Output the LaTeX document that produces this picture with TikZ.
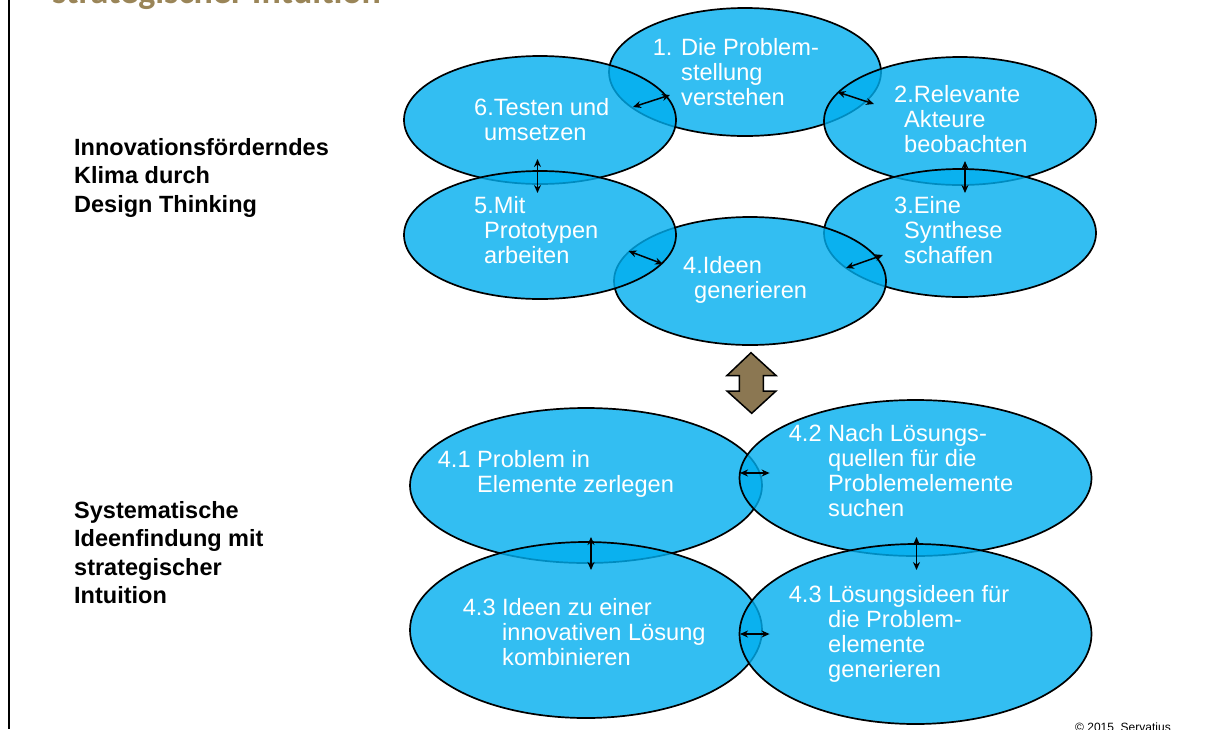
\documentclass[tikz,border=0pt]{standalone}
\usepackage{fontspec}
\setmainfont{Liberation Sans}
\newfontfamily\titlefont{Carlito}
\usetikzlibrary{shapes.geometric,arrows.meta}
\definecolor{ellblue}{HTML}{00AEEF}
\definecolor{arrbrown}{HTML}{8B7752}
\definecolor{titlebrown}{HTML}{9A8558}
\newcommand\mylines[1]{\vtop{\baselineskip=25pt\lineskiplimit=-20pt\lineskip=0pt #1}}
\newcommand\mylabel[1]{\vtop{\baselineskip=28.5pt\lineskiplimit=-20pt\lineskip=0pt #1}}
\begin{document}
\begin{tikzpicture}[x=1pt,y=-1pt,
  stage/.style={ellipse, draw=black, line width=1.7pt, fill=ellblue, fill opacity=0.8, draw opacity=1, inner sep=0pt},
  topstage/.style={stage, minimum width=272pt, minimum height=128pt},
  botstage/.style={stage, minimum width=352pt},
  etext/.style={anchor=base west, inner sep=0pt, text=white, font=\fontsize{23.6}{25}\selectfont},
  sidelabel/.style={anchor=base west, inner sep=0pt, text=black, font=\fontsize{23.5}{28.5}\selectfont\bfseries},
  link/.style={line width=1.5pt, {Stealth[length=8pt,width=7pt]}-{Stealth[length=8pt,width=7pt]}}
]
\useasboundingbox (0,0) rectangle (1215,729);
\fill[white] (0,0) rectangle (1215,729);

% title (cut off) and copyright
\begin{scope}
\clip (0,0) rectangle (1215,729);
\node[anchor=base west, inner sep=0pt, text=titlebrown, font=\titlefont\bfseries\fontsize{36}{36}\selectfont] (title) at (52,3) {strategischer Intuition};
\node[anchor=base west, inner sep=0pt, text=black, font=\fontsize{12}{12}\selectfont] (copy) at (1075,731) {\textcopyright\ 2015\ \ Servatius};
\end{scope}

% left border
\draw[line width=2pt] (8.5,0) -- (8.5,729);

% top cycle
\node[topstage] (e1) at (745,72) {};
\node[topstage] (e2) at (960,121) {};
\node[topstage] (e3) at (960,233) {};
\node[topstage] (e4) at (750,281) {};
\node[topstage] (e6) at (540,120) {};
\node[topstage] (e5) at (540,235) {};

\node[etext] (t1) at (681,55) {\mylines{\hbox{\llap{1. }Die Problem-}\hbox{stellung}\hbox{verstehen}}};
\node[etext] (t2) at (904,102) {\mylines{\hbox{\kern-10pt 2.Relevante}\hbox{Akteure}\hbox{beobachten}}};
\node[etext] (t3) at (904,213) {\mylines{\hbox{\kern-10pt 3.Eine}\hbox{Synthese}\hbox{schaffen}}};
\node[etext] (t4) at (694,273) {\mylines{\hbox{\kern-11pt 4.Ideen}\hbox{generieren}}};
\node[etext] (t5) at (484,213) {\mylines{\hbox{\kern-10pt 5.Mit}\hbox{Prototypen}\hbox{arbeiten}}};
\node[etext] (t6) at (484,115) {\mylines{\hbox{\kern-10pt 6.Testen und}\hbox{umsetzen}}};

% arrow endpoints top
\coordinate (a61) at (633,107); \coordinate (a16) at (670,95);
\coordinate (a12) at (837.5,92); \coordinate (a21) at (874,104);
\coordinate (a23) at (965,161); \coordinate (a32) at (965,193);
\coordinate (a34) at (883,255); \coordinate (a43) at (846,268);
\coordinate (a45) at (663,264); \coordinate (a54) at (628.6,251);
\coordinate (a56) at (537.5,193); \coordinate (a65) at (537.5,159);
\draw[link] (a61) -- (a16);
\draw[link] (a12) -- (a21);
\draw[link] (a23) -- (a32);
\draw[link] (a34) -- (a43);
\draw[link] (a45) -- (a54);
\draw[link] (a56) -- (a65);

% big double arrow
\draw[fill=arrbrown, line width=1.5pt, line join=miter]
  (751,352.7) -- (776,375.5) -- (763.3,375.5) -- (763.3,391) -- (776,391) -- (751.7,413.3)
  -- (727,391) -- (739.3,391) -- (739.3,375.5) -- (727,375.5) -- cycle;

% bottom group
\node[botstage, minimum height=155pt] (b1) at (586,485.5) {};
\node[botstage, minimum height=156pt] (b2) at (915.5,478) {};
\node[botstage, minimum height=176pt] (b3) at (586,630) {};
\node[botstage, minimum height=180pt] (b4) at (915.5,634) {};

\node[etext] (s1) at (477,467) {\mylines{\hbox{\llap{4.1 }Problem in}\hbox{Elemente zerlegen}}};
\node[etext] (s2) at (828,441) {\mylines{\hbox{\llap{4.2 }Nach L\"osungs-}\hbox{quellen f\"ur die}\hbox{Problemelemente}\hbox{suchen}}};
\node[etext] (s3) at (502,615) {\mylines{\hbox{\llap{4.3 }Ideen zu einer}\hbox{innovativen L\"osung}\hbox{kombinieren}}};
\node[etext] (s4) at (828,602) {\mylines{\hbox{\llap{4.3 }L\"osungsideen f\"ur}\hbox{die Problem-}\hbox{elemente}\hbox{generieren}}};

\coordinate (c12) at (740,473); \coordinate (c21) at (769.6,473);
\coordinate (c13) at (591,537); \coordinate (c31) at (591,570);
\coordinate (c24) at (916.5,537); \coordinate (c42) at (916.5,570);
\coordinate (c34) at (740,634); \coordinate (c43) at (769.6,634);
\draw[link] (c12) -- (c21);
\draw[link] (c13) -- (c31);
\draw[link] (c24) -- (c42);
\draw[link] (c34) -- (c43);

% side labels
\node[sidelabel] (l1) at (74,155) {\mylabel{\hbox{Innovationsf\"orderndes}\hbox{Klima durch}\hbox{Design Thinking}}};
\node[sidelabel] (l2) at (74,518) {\mylabel{\hbox{Systematische}\hbox{Ideenfindung mit}\hbox{strategischer}\hbox{Intuition}}};
\end{tikzpicture}
\end{document}
